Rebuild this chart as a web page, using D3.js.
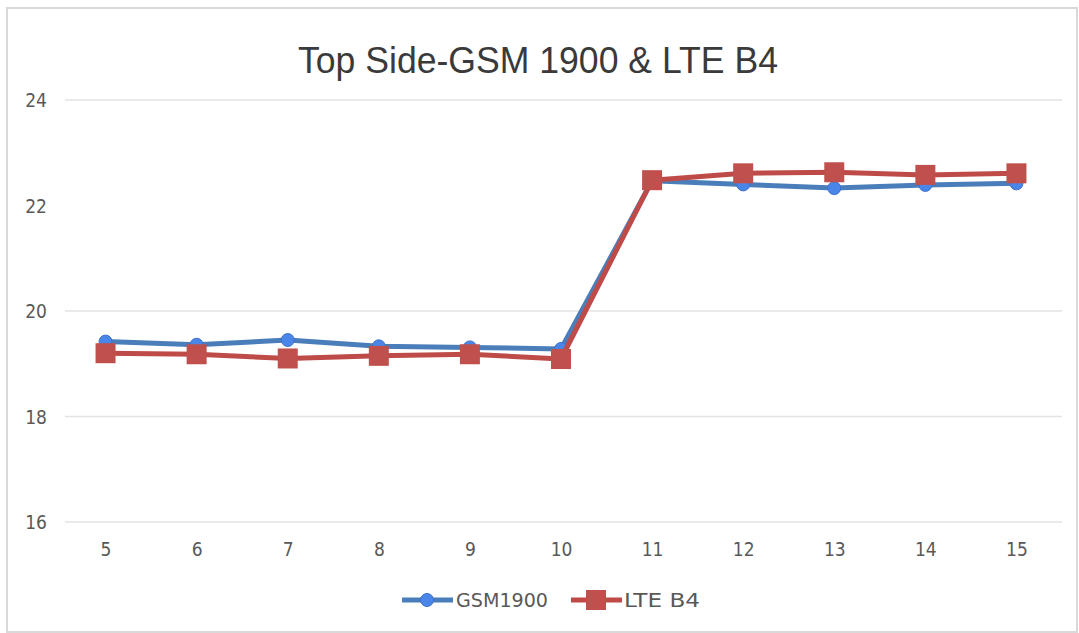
<!DOCTYPE html>
<html>
<head>
<meta charset="utf-8">
<script src="https://cdn.jsdelivr.net/npm/d3@7"></script>
<style>
  body { margin: 0; background: #fff; }
  svg { display: block; }
</style>
</head>
<body>
<div id="chart"></div>
<script>
// chart data
const categories = ["5", "6", "7", "8", "9", "10", "11", "12", "13", "14", "15"];
const gsm1900 = [19.42, 19.36, 19.45, 19.33, 19.31, 19.28, 22.47, 22.40, 22.33, 22.39, 22.42];
const lteB4 = [19.20, 19.18, 19.10, 19.15, 19.18, 19.09, 22.48, 22.61, 22.63, 22.58, 22.61];
const yTicks = [16, 18, 20, 22, 24];

const width = 1079, height = 633;
const plotLeft = 60, plotRight = 1062, plotTop = 100, plotBottom = 522;

const svg = d3.select("#chart")
  .append("svg")
  .attr("width", width)
  .attr("height", height);

// outer frame
svg.append("rect")
  .attr("x", 7).attr("y", 8)
  .attr("width", 1070).attr("height", 624)
  .attr("fill", "#fff")
  .attr("stroke", "#d9d9d9")
  .attr("stroke-width", 2);

const x = d3.scalePoint()
  .domain(categories)
  .range([plotLeft, plotRight])
  .padding(0.5);

const y = d3.scaleLinear()
  .domain([16, 24])
  .range([plotBottom, plotTop]);

// gridlines (the 22 line is not drawn in the original)
svg.append("g")
  .selectAll("line")
  .data(yTicks.filter(d => d !== 22))
  .enter()
  .append("line")
  .attr("x1", 65).attr("x2", plotRight)
  .attr("y1", d => y(d)).attr("y2", d => y(d))
  .attr("stroke", "#e3e3e3")
  .attr("stroke-width", 1.5);

const tickFont = "'DejaVu Sans Condensed', 'DejaVu Sans', sans-serif";

// y axis labels
const yAxis = svg.append("g")
  .attr("transform", "translate(47,0)")
  .call(d3.axisLeft(y).tickValues(yTicks).tickSize(0).tickPadding(0));
yAxis.select(".domain").remove();
yAxis.selectAll("text")
  .style("font-family", tickFont)
  .style("font-size", "19px")
  .style("fill", "#595959")
  .attr("dy", "0.35em");

// x axis labels
const xAxis = svg.append("g")
  .attr("transform", "translate(0," + plotBottom + ")")
  .call(d3.axisBottom(x).tickSize(0).tickPadding(21));
xAxis.select(".domain").remove();
xAxis.selectAll("text")
  .style("font-family", tickFont)
  .style("font-size", "19px")
  .style("fill", "#595959");

// title
svg.append("text")
  .text("Top Side-GSM 1900 & LTE B4")
  .attr("x", 538)
  .attr("y", 73)
  .attr("textLength", 480)
  .attr("lengthAdjust", "spacingAndGlyphs")
  .style("font-family", "'Liberation Sans', Arial, sans-serif")
  .style("font-size", "37px")
  .style("fill", "#3a3a3a")
  .style("text-anchor", "middle");

const line = d3.line()
  .x((d, i) => x(categories[i]))
  .y(d => y(d));

const blueLine = "#4a7ebb", blueDot = "#4a86e8";
const redLine = "#be4b48", redDot = "#c0504d";

// GSM1900 series
svg.append("path")
  .datum(gsm1900)
  .attr("d", line)
  .attr("fill", "none")
  .attr("stroke", blueLine)
  .attr("stroke-width", 5)
  .attr("stroke-linejoin", "round");

svg.append("g")
  .selectAll("circle")
  .data(gsm1900)
  .enter()
  .append("circle")
  .attr("cx", (d, i) => x(categories[i]))
  .attr("cy", d => y(d))
  .attr("r", 6.5)
  .attr("fill", blueDot)
  .attr("stroke", "#3f6fd0")
  .attr("stroke-width", 1);

// LTE B4 series
svg.append("path")
  .datum(lteB4)
  .attr("d", line)
  .attr("fill", "none")
  .attr("stroke", redLine)
  .attr("stroke-width", 5)
  .attr("stroke-linejoin", "round");

svg.append("g")
  .selectAll("rect")
  .data(lteB4)
  .enter()
  .append("rect")
  .attr("x", (d, i) => x(categories[i]) - 10)
  .attr("y", d => y(d) - 10)
  .attr("width", 20)
  .attr("height", 20)
  .attr("fill", redDot);

// legend
const legend = svg.append("g").attr("transform", "translate(0,600)");

legend.append("line")
  .attr("x1", 402).attr("x2", 453)
  .attr("y1", 0).attr("y2", 0)
  .attr("stroke", blueLine).attr("stroke-width", 5);
legend.append("circle")
  .attr("cx", 427).attr("cy", 0).attr("r", 6.5)
  .attr("fill", blueDot).attr("stroke", "#3f6fd0");
legend.append("text")
  .text("GSM1900")
  .attr("x", 456).attr("y", 0).attr("dy", "0.35em")
  .attr("textLength", 92)
  .attr("lengthAdjust", "spacingAndGlyphs")
  .style("font-family", tickFont)
  .style("font-size", "20px")
  .style("fill", "#595959");

legend.append("line")
  .attr("x1", 571).attr("x2", 622)
  .attr("y1", 0).attr("y2", 0)
  .attr("stroke", redLine).attr("stroke-width", 5);
legend.append("rect")
  .attr("x", 586).attr("y", -10)
  .attr("width", 20).attr("height", 20)
  .attr("fill", redDot);
legend.append("text")
  .text("LTE B4")
  .attr("x", 624).attr("y", 0).attr("dy", "0.35em")
  .attr("textLength", 76)
  .attr("lengthAdjust", "spacingAndGlyphs")
  .style("font-family", tickFont)
  .style("font-size", "20px")
  .style("fill", "#595959");
</script>
</body>
</html>
